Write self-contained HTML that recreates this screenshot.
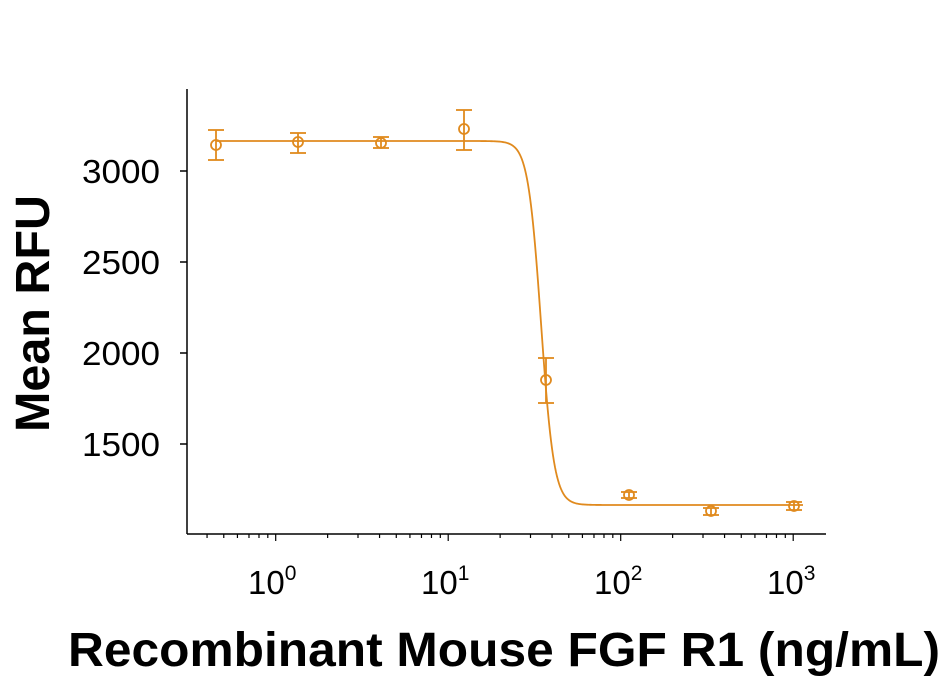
<!DOCTYPE html>
<html><head><meta charset="utf-8"><style>body{margin:0;background:#fff}</style></head><body>
<svg width="948" height="681" xmlns="http://www.w3.org/2000/svg" font-family="Liberation Sans, Arial, sans-serif">
<rect width="948" height="681" fill="#fff"/>
<g stroke="#000" stroke-width="1.5" fill="none">
<line x1="187" y1="89" x2="187" y2="534"/>
<line x1="187" y1="534" x2="826" y2="534"/>
<line x1="180" y1="171" x2="187" y2="171"/>
<line x1="180" y1="262" x2="187" y2="262"/>
<line x1="180" y1="353" x2="187" y2="353"/>
<line x1="180" y1="444" x2="187" y2="444"/>
</g>
<g id="xt" stroke="#000" stroke-width="1.2"></g>
<g font-size="33" fill="#000" text-anchor="end">
<text x="160" y="183" textLength="78" lengthAdjust="spacingAndGlyphs">3000</text>
<text x="160" y="274" textLength="78" lengthAdjust="spacingAndGlyphs">2500</text>
<text x="160" y="365" textLength="78" lengthAdjust="spacingAndGlyphs">2000</text>
<text x="160" y="456" textLength="78" lengthAdjust="spacingAndGlyphs">1500</text>
</g>
<g font-size="33" fill="#000">
<text x="248" y="594">10<tspan font-size="21" dy="-14">0</tspan></text>
<text x="421" y="594">10<tspan font-size="21" dy="-14">1</tspan></text>
<text x="594" y="594">10<tspan font-size="21" dy="-14">2</tspan></text>
<text x="767" y="594">10<tspan font-size="21" dy="-14">3</tspan></text>
</g>
<text x="68" y="666" font-size="48" font-weight="bold" textLength="872" lengthAdjust="spacingAndGlyphs">Recombinant Mouse FGF R1 (ng/mL)</text>
<text transform="translate(49,432) rotate(-90)" font-size="48" font-weight="bold" textLength="237" lengthAdjust="spacingAndGlyphs">Mean RFU</text>
<g id="data" stroke="#E08A1E" stroke-width="1.8" fill="none"></g>
<script>
var ns="http://www.w3.org/2000/svg";
var xt=document.getElementById('xt');
function ln(g,x1,y1,x2,y2){var l=document.createElementNS(ns,'line');l.setAttribute('x1',x1);l.setAttribute('y1',y1);l.setAttribute('x2',x2);l.setAttribute('y2',y2);g.appendChild(l);}
var x0=275.7,dec=172.5;
for(var d=-1;d<=3;d++){for(var m=1;m<=9;m++){var v=d+Math.log10(m);var x=x0+v*dec;if(x<188||x>826)continue;ln(xt,x,534,x,m==1?541:538);}}
var g=document.getElementById('data');
var pts=[[216,145,130,160],[298,142,133,153],[381,143,137,148],[464,129,110,150],[546,380,358,403],[629,495,492,498],[711,511,508,515],[794,506,502,510]];
pts.forEach(function(p){ln(g,p[0],p[2],p[0],p[3]);ln(g,p[0]-8,p[2],p[0]+8,p[2]);ln(g,p[0]-8,p[3],p[0]+8,p[3]);var c=document.createElementNS(ns,'circle');c.setAttribute('cx',p[0]);c.setAttribute('cy',p[1]);c.setAttribute('r',5);g.appendChild(c);});
var d="";for(var x=216;x<=803;x+=1){var y=505-(505-141)/(1+Math.exp((x-541)/6.5));d+=(x==216?"M":"L")+x+","+y.toFixed(2);}
var pa=document.createElementNS(ns,'path');pa.setAttribute('d',d);g.appendChild(pa);
</script>
</svg>
</body></html>
